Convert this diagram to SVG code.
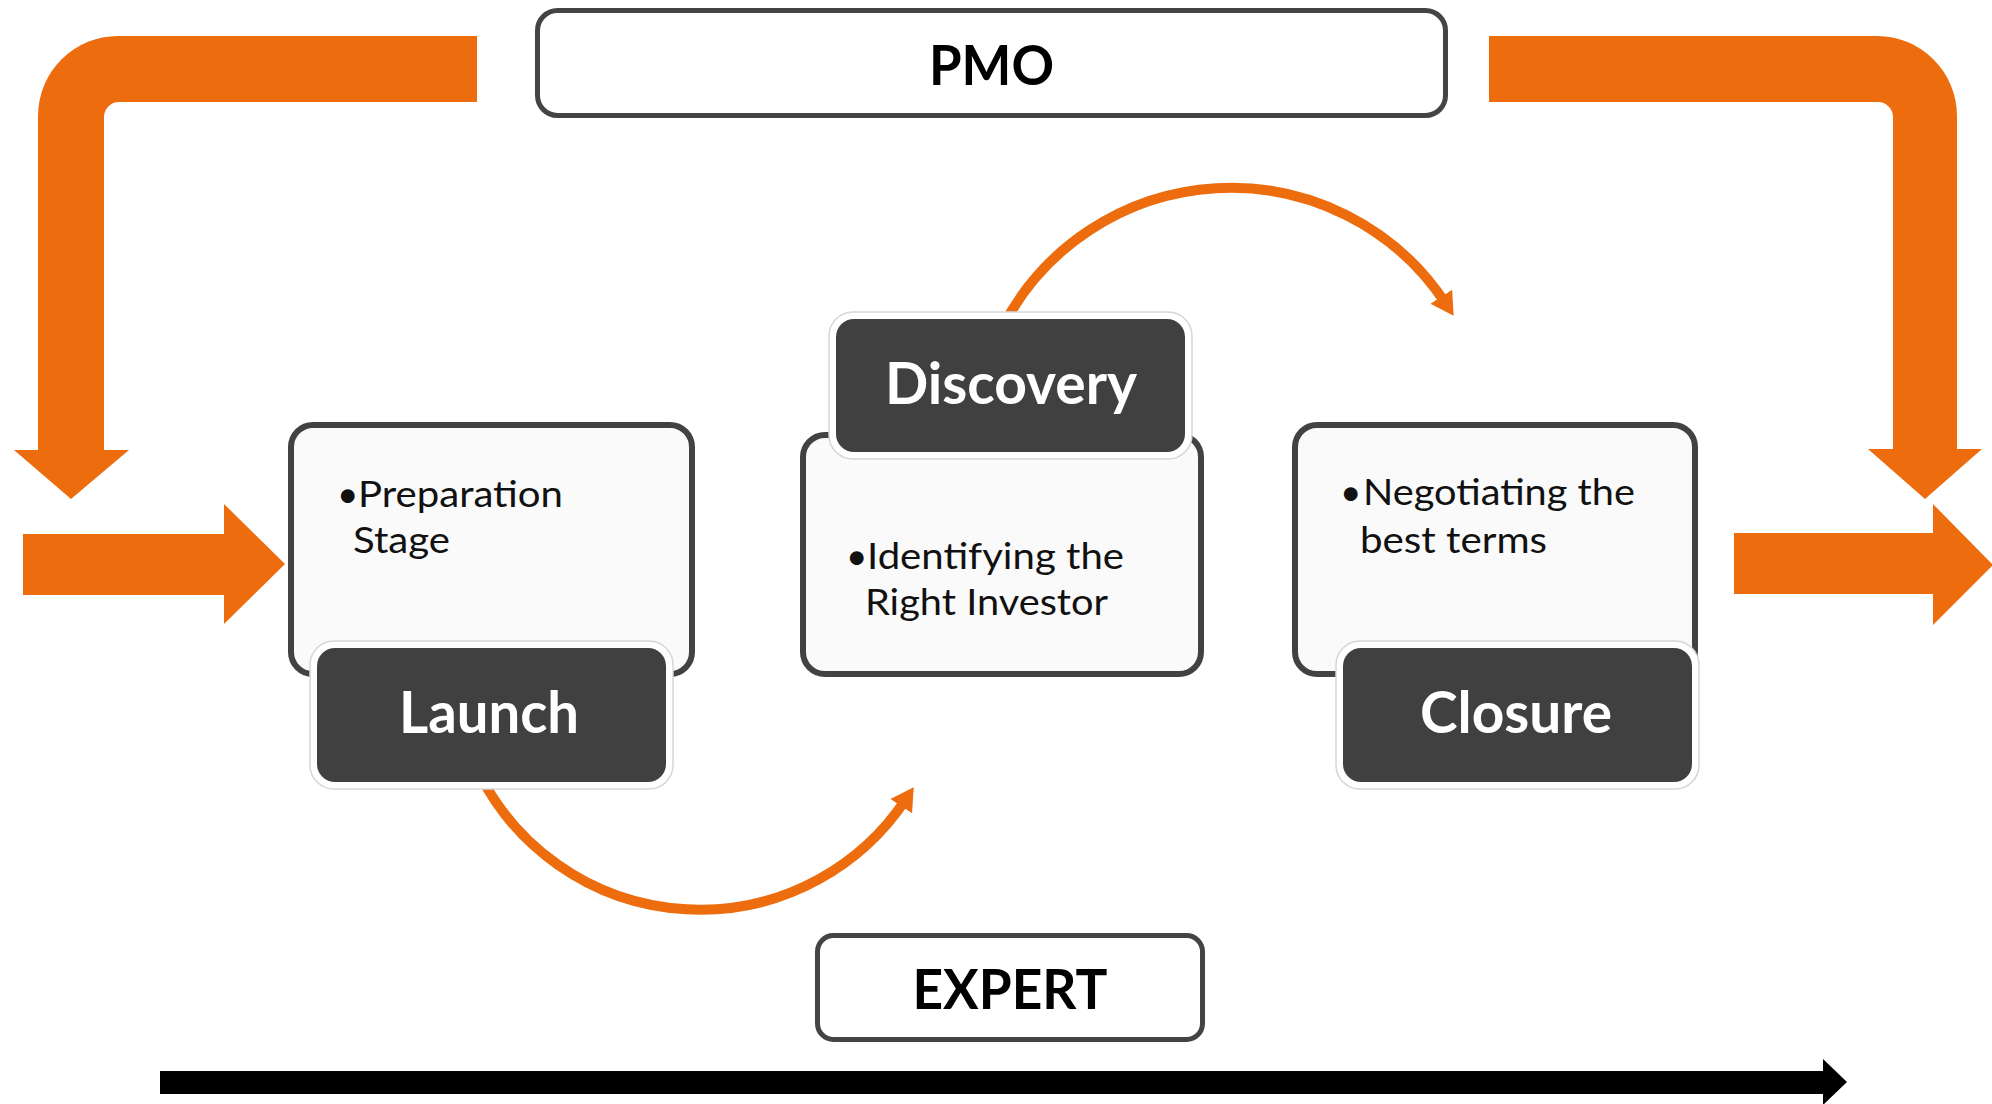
<svg xmlns="http://www.w3.org/2000/svg" width="1992" height="1104" viewBox="0 0 1992 1104">
  <style>
    .frame { fill: #ffffff; stroke: #444444; stroke-width: 5; }
    .card { fill: #fafafa; stroke: #424242; stroke-width: 6; }
    .halo { fill: #ffffff; stroke: #d6d6d6; stroke-width: 1.5; }
    .tab { fill: #404040; }
    .big { fill: #ed6c0e; }
    .arc { fill: none; stroke: #ed6c0e; stroke-width: 10; }
    .title { font-family: Lato, "Liberation Sans", sans-serif; font-weight: 700; font-size: 56px; fill: #000000; text-anchor: middle; }
    .tabtext { font-family: Lato, "Liberation Sans", sans-serif; font-weight: 700; font-size: 58px; fill: #ffffff; text-anchor: middle; }
    .body { font-family: Lato, "Liberation Sans", sans-serif; font-size: 37px; fill: #111111; }
  </style>
  <defs>
    <marker id="head" markerUnits="userSpaceOnUse" markerWidth="24" markerHeight="28" viewBox="0 -13 22 26" refX="8" refY="0" orient="auto">
      <path d="M0,-12 L21,0 L0,12 Z" fill="#ed6c0e"/>
    </marker>
  </defs>

  <!-- connectors -->
  <g id="connectors">
    <!-- PMO feed into the launch side -->
    <path class="big" d="M477,36 L118,36 A80,80 0 0,0 38,116 L38,450 L14,450 L71,499 L129,450 L104,450 L104,117 A15,15 0 0,1 119,102 L477,102 Z"/>
    <!-- PMO feed into the exit side -->
    <path class="big" d="M1489,36 L1877,36 A80,80 0 0,1 1957,116 L1957,449 L1982,449 L1925,499 L1868,449 L1893,449 L1893,117 A15,15 0 0,0 1878,102 L1489,102 Z"/>
    <!-- entry arrow -->
    <path class="big" d="M23,534 L224,534 L224,504 L285,564 L224,624 L224,595 L23,595 Z"/>
    <!-- exit arrow -->
    <path class="big" d="M1734,533 L1933,533 L1933,504 L1993,565 L1933,625 L1933,594 L1734,594 Z"/>
    <!-- Launch to Discovery -->
    <path class="arc" d="M480,775 A247,247 0 0,0 906,799" marker-end="url(#head)"/>
    <!-- Discovery to Closure -->
    <path class="arc" d="M1001,330 A257,257 0 0,1 1446,304" marker-end="url(#head)"/>
    <!-- timeline -->
    <path d="M160,1071 L1823,1071 L1823,1059 L1847,1082 L1823,1105 L1823,1094 L160,1094 Z" fill="#000000"/>
  </g>

  <g id="pmo">
    <rect class="frame" x="537.5" y="10.5" width="908" height="105" rx="20"/>
    <text class="title" x="991.5" y="85" textLength="125" lengthAdjust="spacingAndGlyphs">PMO</text>
  </g>

  <g id="launch">
    <rect class="card" x="291" y="425" width="401" height="249" rx="22"/>
    <text class="body" x="337" y="507">•</text>
    <text class="body" x="358" y="507" textLength="205" lengthAdjust="spacingAndGlyphs">Preparation</text>
    <text class="body" x="353" y="553" textLength="97" lengthAdjust="spacingAndGlyphs">Stage</text>
    <rect class="halo" x="310" y="641" width="363" height="148" rx="24"/>
    <rect class="tab" x="317" y="648" width="349" height="134" rx="18"/>
    <text class="tabtext" x="489" y="733" textLength="180" lengthAdjust="spacingAndGlyphs">Launch</text>
  </g>

  <g id="discovery">
    <rect class="card" x="803" y="435" width="398" height="239" rx="22"/>
    <text class="body" x="846" y="569">•</text>
    <text class="body" x="867" y="569" textLength="257" lengthAdjust="spacingAndGlyphs">Identifying the</text>
    <text class="body" x="865" y="615" textLength="243" lengthAdjust="spacingAndGlyphs">Right Investor</text>
    <rect class="halo" x="829" y="312" width="363" height="147" rx="24"/>
    <rect class="tab" x="836" y="319" width="349" height="133" rx="18"/>
    <text class="tabtext" x="1011" y="404" textLength="252" lengthAdjust="spacingAndGlyphs">Discovery</text>
  </g>

  <g id="closure">
    <rect class="card" x="1295" y="425" width="400" height="249" rx="22"/>
    <text class="body" x="1340" y="505">•</text>
    <text class="body" x="1363" y="505" textLength="272" lengthAdjust="spacingAndGlyphs">Negotiating the</text>
    <text class="body" x="1360" y="553" textLength="187" lengthAdjust="spacingAndGlyphs">best terms</text>
    <rect class="halo" x="1336" y="641" width="363" height="148" rx="24"/>
    <rect class="tab" x="1343" y="648" width="349" height="134" rx="18"/>
    <text class="tabtext" x="1516" y="733" textLength="192" lengthAdjust="spacingAndGlyphs">Closure</text>
  </g>

  <g id="expert">
    <rect class="frame" x="817.5" y="935.5" width="385" height="104" rx="16"/>
    <text class="title" x="1010" y="1009" font-size="54" textLength="195" lengthAdjust="spacingAndGlyphs">EXPERT</text>
  </g>
</svg>
